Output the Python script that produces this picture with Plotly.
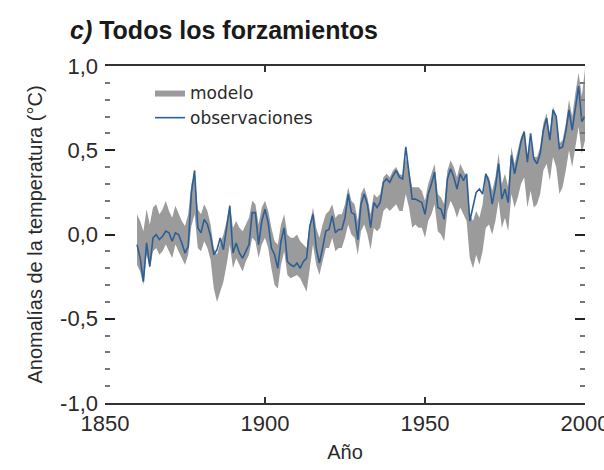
import plotly.graph_objects as go

years = list(range(1860, 2001))

observaciones = [
    -0.06, -0.14, -0.28, -0.05, -0.19, -0.02, 0.00, -0.03, -0.01, 0.02,
    0.01, -0.04, 0.01, 0.00, -0.05, -0.11, -0.07, 0.25, 0.38, 0.04,
    0.01, 0.09, 0.06, -0.01, -0.12, -0.09, -0.02, -0.09, 0.04, 0.17,
    -0.11, -0.05, -0.11, -0.14, -0.10, -0.06, 0.13, 0.13, -0.06, 0.08,
    0.15, 0.07, -0.08, -0.12, -0.20, -0.04, 0.04, -0.16, -0.18, -0.19,
    -0.17, -0.20, -0.16, -0.14, 0.05, 0.12, -0.08, -0.17, -0.08, 0.02,
    0.03, 0.11, 0.01, 0.03, 0.03, 0.10, 0.24, 0.13, 0.12, -0.03,
    0.18, 0.24, 0.18, 0.04, 0.19, 0.16, 0.19, 0.31, 0.33, 0.31,
    0.35, 0.38, 0.34, 0.33, 0.52, 0.36, 0.21, 0.21, 0.20, 0.19,
    0.12, 0.24, 0.30, 0.37, 0.16, 0.15, 0.09, 0.33, 0.39, 0.34,
    0.27, 0.36, 0.32, 0.36, 0.08, 0.17, 0.25, 0.27, 0.24, 0.36,
    0.31, 0.18, 0.28, 0.42, 0.21, 0.27, 0.19, 0.47, 0.36, 0.45,
    0.55, 0.61, 0.43, 0.60, 0.45, 0.42, 0.48, 0.62, 0.69, 0.56,
    0.74, 0.70, 0.51, 0.52, 0.61, 0.74, 0.62, 0.75, 0.88, 0.67,
    0.70,
]

modelo_min = [
    -0.18, -0.22, -0.30, -0.12, -0.20, -0.10, -0.08, -0.12, -0.10, -0.06,
    -0.10, -0.14, -0.06, -0.10, -0.15, -0.18, -0.12, 0.05, 0.12, -0.08,
    -0.10, -0.04, -0.08, -0.15, -0.32, -0.40, -0.34, -0.28, -0.18, -0.06,
    -0.20, -0.14, -0.18, -0.22, -0.16, -0.12, -0.02, -0.04, -0.14, -0.06,
    -0.02, -0.08, -0.20, -0.30, -0.32, -0.18, -0.10, -0.24, -0.26, -0.25,
    -0.24, -0.26, -0.30, -0.34, -0.20, -0.06, -0.18, -0.24, -0.16, -0.08,
    -0.08, -0.02, -0.10, -0.08, -0.08, -0.02, 0.06, 0.00, -0.02, -0.12,
    0.02, 0.06, 0.00, -0.09, 0.04, 0.02, 0.04, 0.14, 0.16, 0.14,
    0.16, 0.18, 0.14, 0.14, 0.24, 0.16, 0.04, 0.06, 0.04, 0.04,
    -0.02, 0.08, 0.12, 0.18, 0.02, 0.00, -0.04, 0.14, 0.20, 0.16,
    0.10, 0.16, 0.12, 0.08, -0.14, -0.20, -0.12, -0.18, -0.10, 0.04,
    0.06, 0.00, 0.08, 0.20, 0.04, 0.10, 0.02, 0.24, 0.16, 0.22,
    0.30, 0.34, 0.16, 0.26, 0.16, 0.18, 0.24, 0.38, 0.42, 0.32,
    0.46, 0.40, 0.24, 0.28, 0.38, 0.50, 0.40, 0.52, 0.64, 0.48,
    0.56,
]

modelo_max = [
    0.12, 0.08, 0.02, 0.15, 0.06, 0.16, 0.18, 0.12, 0.15, 0.20,
    0.14, 0.10, 0.17, 0.12, 0.08, 0.05, 0.12, 0.30, 0.36, 0.15,
    0.12, 0.18, 0.14, 0.06, -0.08, -0.12, -0.05, 0.00, 0.08, 0.18,
    0.04, 0.08, 0.04, 0.02, 0.06, 0.10, 0.20, 0.18, 0.06, 0.16,
    0.20, 0.14, 0.04, -0.04, -0.06, 0.06, 0.12, 0.00, -0.02, -0.02,
    0.00, -0.04, -0.06, -0.08, 0.06, 0.16, 0.04, -0.02, 0.06, 0.12,
    0.14, 0.18, 0.10, 0.12, 0.12, 0.18, 0.28, 0.20, 0.18, 0.08,
    0.24, 0.28, 0.22, 0.12, 0.24, 0.22, 0.24, 0.34, 0.36, 0.34,
    0.38, 0.40, 0.36, 0.35, 0.46, 0.38, 0.28, 0.28, 0.28, 0.26,
    0.20, 0.30, 0.36, 0.42, 0.24, 0.22, 0.18, 0.38, 0.44, 0.40,
    0.34, 0.42, 0.38, 0.34, 0.12, 0.08, 0.14, 0.10, 0.18, 0.36,
    0.34, 0.26, 0.34, 0.48, 0.30, 0.36, 0.28, 0.52, 0.42, 0.50,
    0.58, 0.62, 0.44, 0.56, 0.46, 0.46, 0.52, 0.66, 0.72, 0.60,
    0.76, 0.70, 0.54, 0.56, 0.66, 0.80, 0.70, 0.84, 0.96, 0.82,
    0.98,
]

y_tick_vals = [-1.0, -0.5, 0.0, 0.5, 1.0]
y_tick_text = ["-1,0", "-0,5", "0,0", "0,5", "1,0"]
x_tick_vals = [1850, 1900, 1950, 2000]
x_tick_text = ["1850", "1900", "1950", "2000"]

FONT = "Liberation Sans, Arial, sans-serif"
TXT = "#2a2a2a"

fig = go.Figure()
fig.add_trace(go.Scatter(
    x=years, y=modelo_min, mode="lines", line=dict(width=0, color="#9b9b9b"),
    showlegend=False, hoverinfo="skip"))
fig.add_trace(go.Scatter(
    x=years, y=modelo_max, mode="lines", line=dict(width=0, color="#9b9b9b"),
    fill="tonexty", fillcolor="#9b9b9b", name="modelo"))
fig.add_trace(go.Scatter(
    x=years, y=observaciones, mode="lines",
    line=dict(width=1.6, color="#2d5e95"), name="observaciones"))

fig.update_layout(
    width=604, height=470,
    margin=dict(l=105, r=19, t=66, b=67, autoexpand=False),
    paper_bgcolor="white", plot_bgcolor="white",
    font=dict(family=FONT, color=TXT, size=20),
    title=dict(
        text="<i>c)</i> Todos los forzamientos",
        x=70 / 604, xref="container", xanchor="left",
        y=1 - 30 / 470, yref="container", yanchor="middle",
        font=dict(family=FONT, size=25, color="#1a1a1a", weight="bold")),
    legend=dict(
        x=(150 - 105) / 480, y=1 - (75 - 66) / 337,
        xanchor="left", yanchor="top", traceorder="normal",
        bgcolor="rgba(0,0,0,0)", font=dict(size=17, family="DejaVu Sans", color=TXT),
        tracegroupgap=0, itemwidth=30),
    showlegend=True,
)

fig.update_xaxes(
    range=[1850, 2000], tickvals=x_tick_vals, ticktext=x_tick_text,
    ticks="inside", ticklen=6, tickwidth=1.5, tickcolor="#333",
    showline=True, linecolor="#333", linewidth=2, mirror="ticks",
    showgrid=False, zeroline=False, ticklabeloverflow="allow", automargin=False,
    tickfont=dict(size=22, color=TXT), ticklabelstandoff=0,
    title=dict(text="Año", font=dict(size=20, color=TXT), standoff=10),
)
fig.update_yaxes(
    range=[-1.0, 1.0], tickvals=y_tick_vals, ticktext=y_tick_text,
    ticks="inside", ticklen=10, tickwidth=2, tickcolor="#222",
    minor=dict(dtick=0.1, tick0=0, ticks="inside", ticklen=5, tickwidth=1.5, tickcolor="#777"),
    showline=False, mirror="ticks", automargin=False,
    showgrid=False, zeroline=False,
    tickfont=dict(size=22, color=TXT), ticklabelstandoff=6,
    title=dict(text="Anomalías de la temperatura (°C)", font=dict(size=20, color=TXT), standoff=12),
)

fig.write_html("out.html", config={"displayModeBar": False},
               post_script="document.body.style.margin='0';")
